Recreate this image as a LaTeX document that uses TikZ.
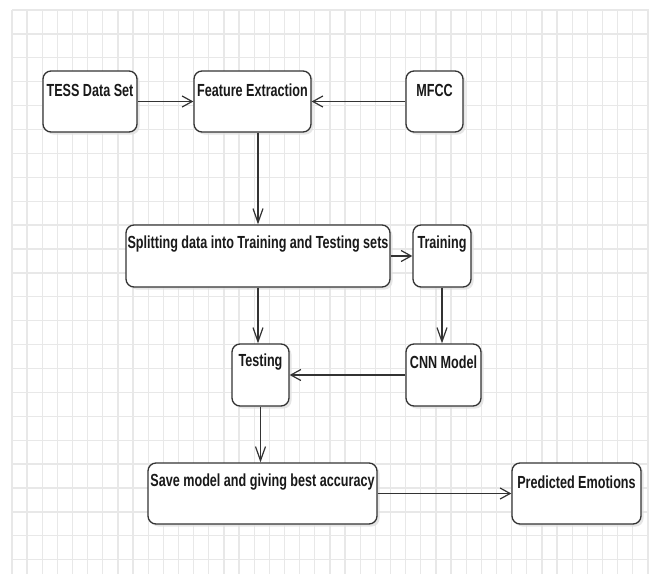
\documentclass[tikz,border=0pt]{standalone}
\usepackage{fontspec}
\newfontfamily\boxfont{Liberation Sans}[FakeStretch=0.72]
\usetikzlibrary{arrows.meta,shadows}
\definecolor{gridc}{HTML}{E8E8E8}
\definecolor{edge}{HTML}{333333}
\tikzset{
  box/.style={draw=edge, line width=1.3pt, rounded corners=8pt, fill=white,
    drop shadow={shadow xshift=2.5pt, shadow yshift=-2.5pt, fill=black!12, opacity=0.8},
    inner sep=0pt},
  lbl/.style={font=\boxfont\bfseries\fontsize{17.5}{19}\selectfont, text=black!90, inner sep=0pt},
  hconn/.style={draw=edge, line width=1.2pt, -{Straight Barb[length=10pt,width=11pt,line width=1.2pt]}},
  vconn/.style={draw=edge, line width=1.2pt, -{Straight Barb[length=14pt,width=10pt,line width=1.2pt]}},
}
\begin{document}
\begin{tikzpicture}[x=1pt,y=-1pt]
\useasboundingbox (0,0) rectangle (649,574);
\fill[white] (0,0) rectangle (649,574);
% grid
\foreach \k in {0,...,42} {
  \draw[gridc, line width=1.3pt] ({12+15.14*\k},10) -- ({12+15.14*\k},574);
}
\foreach \k in {0,...,23} {
  \draw[gridc, line width=1.3pt] (12,{10+23.9*\k}) -- (649,{10+23.9*\k});
}
% boxes
\node[box, minimum width=94pt, minimum height=61pt] (tess) at (90,101.5) {};
\node[lbl] (tessl) at ([yshift=-20pt]tess.north) {TESS Data Set};
\node[box, minimum width=117pt, minimum height=61pt] (feat) at (252.5,101.5) {};
\node[lbl] (featl) at ([yshift=-20pt]feat.north) {Feature Extraction};
\node[box, minimum width=57pt, minimum height=61pt] (mfcc) at (434.5,101.5) {};
\node[lbl] (mfccl) at ([yshift=-20pt]mfcc.north) {MFCC};
\node[box, minimum width=264pt, minimum height=62pt] (split) at (258,256) {};
\node[lbl] (splitl) at ([yshift=-20pt]split.north) {Splitting data into Training and Testing sets};
\node[box, minimum width=58pt, minimum height=62pt] (train) at (442,256) {};
\node[lbl] (trainl) at ([yshift=-20pt]train.north) {Training};
\node[box, minimum width=57pt, minimum height=62pt] (test) at (260.5,375) {};
\node[lbl] (testl) at ([yshift=-19pt]test.north) {Testing};
\node[box, minimum width=75pt, minimum height=62pt] (cnn) at (443.5,375) {};
\node[lbl] (cnnl) at ([yshift=-19pt]cnn.north) {CNN Model};
\node[box, minimum width=229pt, minimum height=61pt] (save) at (262.5,493.5) {};
\node[lbl] (savel) at ([yshift=-20pt]save.north) {Save model and giving best accuracy};
\node[box, minimum width=129pt, minimum height=61pt] (pred) at (576.5,493.5) {};
\node[lbl] (predl) at ([yshift=-20pt]pred.north) {Predicted Emotions};
% connectors
\draw[hconn] (tess.east) -- (feat.west);
\draw[hconn] (mfcc.west) -- (feat.east);
\draw[vconn] (feat.south -| split.north) -- (split.north);
\draw[hconn] (split.east) -- (train.west);
\draw[vconn] (split.south) -- (split.south |- test.north);
\draw[vconn] (train.south) -- (train.south |- cnn.north);
\draw[hconn] (cnn.west) -- (test.east);
\draw[vconn] (test.south) -- (test.south |- save.north);
\draw[hconn] (save.east) -- (pred.west);
\end{tikzpicture}
\end{document}
